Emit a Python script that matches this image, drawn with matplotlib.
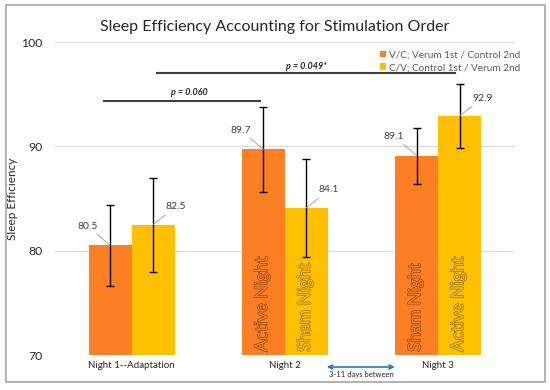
import numpy as np
import matplotlib
matplotlib.use("Agg")
import matplotlib.pyplot as plt
import matplotlib.patheffects as pe
from matplotlib.patches import Rectangle

plt.rcParams['font.family'] = ['Lato', 'DejaVu Sans']

# data
nights = ["Night 1--Adaptation", "Night 2", "Night 3"]
vc_vals = [80.5, 89.7, 89.1]
cv_vals = [82.5, 84.1, 92.9]
vc_err = [3.9, 4.1, 2.7]
cv_err = [4.5, 4.7, 3.1]
vc_inner = ["", "Active Night", "Sham Night"]
cv_inner = ["", "Sham Night", "Active Night"]
legend_labels = ["V/C; Verum 1st / Control 2nd", "C/V; Control 1st / Verum 2nd"]

orange = "#fd7f23"
yellow = "#ffc000"

fig = plt.figure(figsize=(5.5, 3.9), dpi=100)
ax = fig.add_axes([0.1, 0.0897, 0.836, 0.8026])

x = np.arange(len(nights))
w = 0.28
ax.bar(x - w / 2, vc_vals, w, color=orange, label=legend_labels[0], zorder=2)
ax.bar(x + w / 2, cv_vals, w, color=yellow, label=legend_labels[1], zorder=2)
ax.errorbar(x - w / 2, vc_vals, yerr=vc_err, fmt="none", ecolor="black",
            elinewidth=1, capsize=3, capthick=1, zorder=3)
ax.errorbar(x + w / 2, cv_vals, yerr=cv_err, fmt="none", ecolor="black",
            elinewidth=1, capsize=3, capthick=1, zorder=3)

ax.set_ylim(70, 100)
ax.set_xlim(-0.5, 2.5)
ax.set_yticks([70, 80, 90, 100])
ax.set_xticks(x)
ax.set_xticklabels(nights, fontsize=7, color="#262626")
ax.tick_params(axis="y", labelsize=8.8, colors="#262626", length=0, pad=9)
ax.tick_params(axis="x", length=0, pad=4)
ax.grid(axis="y", color="#d9d9d9", lw=0.8, zorder=0)
for s in ax.spines.values():
    s.set_visible(False)
ax.set_ylabel("Sleep Efficiency", fontsize=8.5, color="#262626")
ax.yaxis.set_label_coords(-0.08, 0.5)

# value labels with leader lines
lab_kw = dict(textcoords="offset points", fontsize=7.5, color="#404040", va="center",
              arrowprops=dict(arrowstyle="-", color="#a6a6a6", lw=0.7, shrinkA=1, shrinkB=0))
for xi, v in zip(x - w / 2, vc_vals):
    ax.annotate(f"{v:.1f}", xy=(xi, v), xytext=(-9, 14), ha="right", **lab_kw)
for xi, v in zip(x + w / 2, cv_vals):
    ax.annotate(f"{v:.1f}", xy=(xi, v), xytext=(9, 13), ha="left", **lab_kw)

# text inside bars
for xi, t in zip(x - w / 2, vc_inner):
    if t:
        ax.text(xi - 0.01, 70.3, t, rotation=90, ha="center", va="bottom",
                fontsize=12.5, color=orange, zorder=4,
                path_effects=[pe.withStroke(linewidth=0.9, foreground="#8a4410")])
for xi, t in zip(x + w / 2, cv_inner):
    if t:
        ax.text(xi - 0.01, 70.3, t, rotation=90, ha="center", va="bottom",
                fontsize=12.5, color=yellow, zorder=4,
                path_effects=[pe.withStroke(linewidth=0.9, foreground="#8a6500")])

# significance bars
ax.plot([-0.18, 0.84], [94.3, 94.3], color="#404040", lw=1.5, zorder=3)
ax.text(0.38, 95.2, "p = 0.060", style="italic", fontweight="bold", fontsize=6.5,
        ha="center", va="center", color="#262626")
ax.plot([0.165, 2.11], [97.0, 97.0], color="#404040", lw=1.5, zorder=3)
ax.text(1.14, 97.65, "p = 0.049*", style="italic", fontweight="bold", fontsize=6.5,
        ha="center", va="center", color="#262626")

# gap between nights
ax.annotate("", xy=(1.274, 68.85), xytext=(1.717, 68.85), annotation_clip=False,
            arrowprops=dict(arrowstyle="<->", color="#2e75b6", lw=1.2,
                            shrinkA=0, shrinkB=0, mutation_scale=7))
ax.text(1.497, 68.1, "3-11 days between", fontsize=5.5, ha="center", va="center",
        color="#262626", clip_on=False)

ax.legend(loc="upper right", bbox_to_anchor=(1.02, 0.985), frameon=False, fontsize=7.2,
          labelcolor="#595959", handlelength=0.6, handleheight=0.6, handletextpad=0.3,
          labelspacing=0.35, borderaxespad=0)

fig.suptitle("Sleep Efficiency Accounting for Stimulation Order", x=0.5, y=0.95,
             fontsize=11.5, color="#262626")

fig.patches.append(Rectangle((6 / 550, 1 - 382 / 390), 539 / 550, 377 / 390,
                             transform=fig.transFigure, fill=False,
                             edgecolor="#a6a6a6", lw=1.2))

fig.savefig("out.png", dpi=100)
